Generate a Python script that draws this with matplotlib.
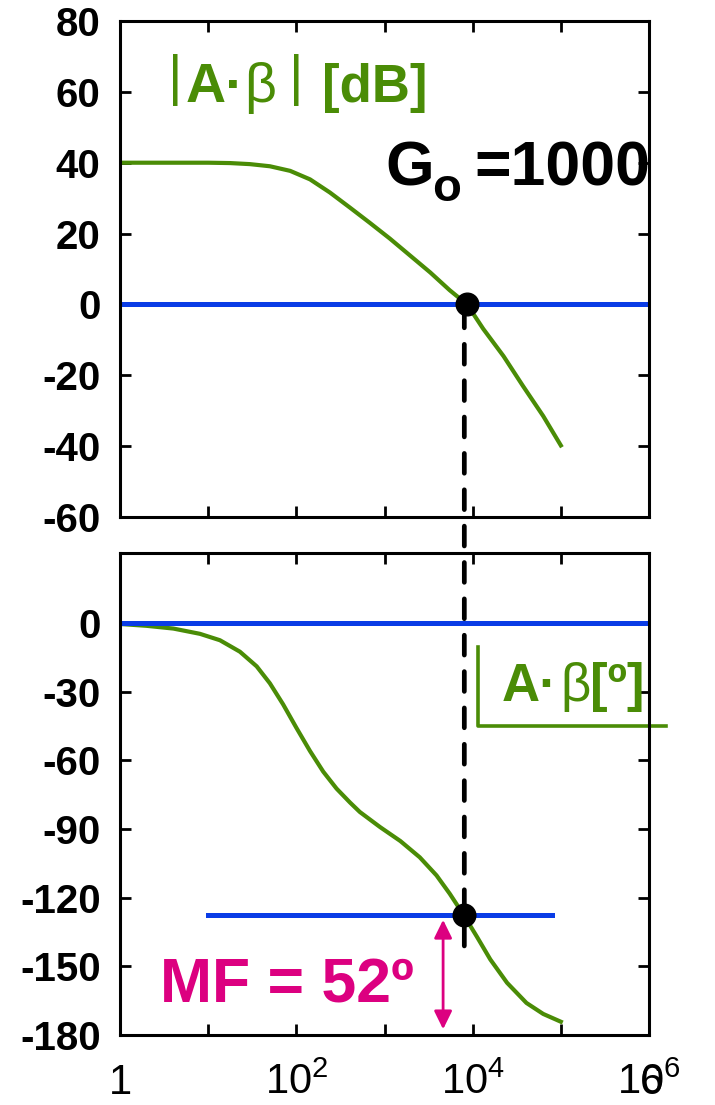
"""Bode plot of loop gain A*beta with phase margin annotation."""
import matplotlib
matplotlib.use('Agg')
import matplotlib.pyplot as plt
from matplotlib.patches import ConnectionPatch
from matplotlib.ticker import FixedLocator, NullLocator
from matplotlib.transforms import blended_transform_factory

plt.rcParams['font.family'] = ['Liberation Sans', 'DejaVu Sans']
plt.rcParams['mathtext.fontset'] = 'custom'
plt.rcParams['mathtext.rm'] = 'Liberation Sans'
plt.rcParams['mathtext.bf'] = 'Liberation Sans:bold'

# ---- data ----
f_mag = [1, 10, 17.7, 29.8, 50.1, 85.1, 143, 240, 407, 684, 1148, 1950, 3311,
         5495, 8650, 13180, 22390, 37150, 63100, 100000]
mag_db = [40, 40, 39.9, 39.6, 39.0, 37.7, 35.3, 31.6, 27.3, 23.0, 18.6, 13.8, 9.0,
          4.0, 0, -6.9, -14.6, -23.0, -31.5, -39.8]

f_ph = [1, 2.0, 4.03, 8.07, 13.6, 22.9, 35.5, 50.1, 70.8, 100, 143, 202, 286, 407,
        525, 891, 1514, 2512, 3890, 5495, 7940, 11220, 15850, 24550, 40740, 63100, 100000]
ph_deg = [-0.5, -1.3, -2.5, -4.8, -7.6, -12.6, -19.0, -26.4, -35.6, -45.8, -56.0,
          -65.0, -72.4, -78.5, -82.6, -89.2, -95.3, -102.4, -110.3, -118.3, -127.7,
          -137.2, -147.0, -157.2, -166.0, -170.8, -174.2]

f_cross_mag, f_cross_ph, f_dash = 8650, 7940, 8040
ph_cross = -127.7
pm_line_f = [10, 80000]
arrow_f, arrow_top, arrow_bot = 4620, -129.7, -177.5

mag_ticks = [80, 60, 40, 20, 0, -20, -40, -60]
ph_ticks = [0, -30, -60, -90, -120, -150, -180]
x_ticks = [1, 10, 100, 1e3, 1e4, 1e5, 1e6]
x_labels = ['1', '', '$10^2$', '', '$10^4$', '', '$10^6$']

green = '#4a8c06'
blue = '#0a3ce6'
magenta = '#dc0080'

fig = plt.figure(figsize=(7.15, 11.05), dpi=100)
W, H = 715, 1105
ax1 = fig.add_axes([120/W, (H-517)/H, 529/W, 496/H])
ax2 = fig.add_axes([120/W, (H-1035)/H, 529/W, 482/H])

for ax in (ax1, ax2):
    ax.set_xscale('log')
    ax.set_xlim(1, 1e6)
    ax.xaxis.set_major_locator(FixedLocator(x_ticks))
    ax.xaxis.set_minor_locator(NullLocator())
    ax.tick_params(direction='in', length=8, width=2, top=True, right=True,
                   labelsize=29, pad=14)
    for s in ax.spines.values():
        s.set_linewidth(2.2)

# magnitude panel
ax1.plot(f_mag, mag_db, color=green, lw=3)
ax1.plot([1, 1e6], [0, 0], color=blue, lw=3.6)
ax1.plot(f_cross_mag, 0, 'o', color='k', ms=16.3, zorder=5)
ax1.set_ylim(-60, 80)
ax1.set_yticks(mag_ticks)
ax1.set_yticklabels([str(t) for t in mag_ticks], fontweight='bold')
ax1.set_xticklabels([])

ax1.text(3.5, 59.4, '|', color=green, fontsize=40)
ax1.text(5.6, 57.2, 'A·', color=green, fontsize=40, fontweight='bold')
ax1.text(25.5, 57.2, 'β', color=green, fontsize=40)
ax1.text(81.5, 59.4, '|', color=green, fontsize=40)
ax1.text(195, 57.2, '[dB]', color=green, fontsize=38, fontweight='bold')

ax1.text(1014, 33.5, 'G', fontsize=45, fontweight='bold', clip_on=True)
ax1.text(3428, 29.3, 'o', fontsize=34, fontweight='bold', clip_on=True)
ax1.text(10350, 33.5, '=1000', fontsize=45, fontweight='bold', clip_on=True)

# phase panel
ax2.plot(f_ph, ph_deg, color=green, lw=3)
ax2.plot([1, 1e6], [0, 0], color=blue, lw=3.6)
ax2.plot(pm_line_f, [ph_cross, ph_cross], color=blue, lw=3.6)
ax2.plot(f_cross_ph, ph_cross, 'o', color='k', ms=16.3, zorder=5)
ax2.set_ylim(-180, 30.5)
ax2.set_yticks(ph_ticks)
ax2.set_yticklabels([str(t) for t in ph_ticks], fontweight='bold')
ax2.set_xticklabels(x_labels)
ax2.tick_params(axis='x', labelsize=30, pad=20)
trans = blended_transform_factory(ax2.transData, ax2.transAxes)
ax2.text(1.08e6, -0.142, '6', transform=trans, ha='center', va='bottom', fontsize=30)

ax2.plot([11600, 11600, 1.55e6], [-10.6, -45.1, -45.1], color=green, lw=2.6,
         clip_on=False)
ax2.text(21500, -34.1, 'A·', color=green, fontsize=38, fontweight='bold')
ax2.text(97800, -34.1, 'β', color=green, fontsize=38)
ax2.text(214000, -34.1, '[º]', color=green, fontsize=38, fontweight='bold')
ax2.text(10**0.45, -165.6, 'MF = 52º', color=magenta, fontsize=45, fontweight='bold')
ax2.annotate('', xy=(arrow_f, arrow_top), xytext=(arrow_f, arrow_bot),
             arrowprops=dict(arrowstyle='<|-|>,head_length=0.55,head_width=0.27',
                             color=magenta, lw=2, mutation_scale=20,
                             shrinkA=0, shrinkB=0))

con = ConnectionPatch(xyA=(f_dash, -1), coordsA=ax1.transData,
                      xyB=(f_dash, -143.7), coordsB=ax2.transData,
                      color='k', lw=3.4, linestyle=(0, (4.2, 3.5)))
fig.add_artist(con)

fig.savefig('out.png', dpi=100)
